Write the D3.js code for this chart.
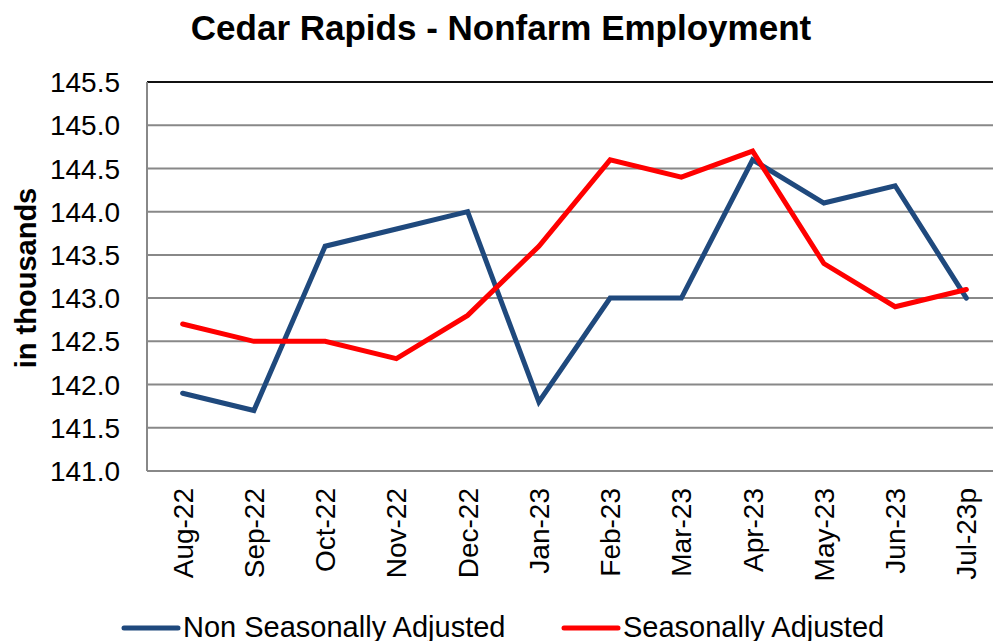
<!DOCTYPE html>
<html>
<head>
<meta charset="utf-8">
<script src="https://cdn.jsdelivr.net/npm/d3@7"></script>
<style>
  body { margin: 0; background: #fff; overflow: hidden; }
  text { font-family: "Liberation Sans", Arial, sans-serif; fill: #000; }
</style>
</head>
<body>
<svg id="chart"></svg>
<script>
// svg size
const width = 993;
const height = 641;

// data
const months = ["Aug-22", "Sep-22", "Oct-22", "Nov-22", "Dec-22", "Jan-23",
    "Feb-23", "Mar-23", "Apr-23", "May-23", "Jun-23", "Jul-23p"];
const nonSeasonal = [141.9, 141.7, 143.6, 143.8, 144.0, 141.8, 143.0, 143.0, 144.6, 144.1, 144.3, 143.0];
const seasonal = [142.7, 142.5, 142.5, 142.3, 142.8, 143.6, 144.6, 144.4, 144.7, 143.4, 142.9, 143.1];
const yTicks = [141.0, 141.5, 142.0, 142.5, 143.0, 143.5, 144.0, 144.5, 145.0, 145.5];

const series = [
    { name: "Non Seasonally Adjusted", values: nonSeasonal, color: "#1f497d" },
    { name: "Seasonally Adjusted", values: seasonal, color: "#ff0000" }
];

// plot box
const plotLeft = 147, plotTop = 82, plotBottom = 471, plotRight = 1002;

const svg = d3.select("#chart")
    .attr("width", width)
    .attr("height", height);

const x = d3.scaleBand()
    .domain(months)
    .range([plotLeft, plotRight]);

const y = d3.scaleLinear()
    .domain([141, 145.5])
    .range([plotBottom, plotTop]);

// gridlines
svg.append("g")
    .selectAll("line")
    .data(yTicks)
    .enter()
    .append("line")
    .attr("x1", plotLeft)
    .attr("x2", plotRight)
    .attr("y1", d => y(d))
    .attr("y2", d => y(d))
    .attr("stroke", d => d === 145.5 ? "#111" : "#888")
    .attr("stroke-width", 2);

// left axis line
svg.append("line")
    .attr("x1", plotLeft).attr("x2", plotLeft)
    .attr("y1", plotTop).attr("y2", plotBottom)
    .attr("stroke", "#888")
    .attr("stroke-width", 2);

// y tick labels
svg.append("g")
    .selectAll("text")
    .data(yTicks)
    .enter()
    .append("text")
    .attr("x", 120)
    .attr("y", d => y(d))
    .attr("dy", "0.36em")
    .attr("text-anchor", "end")
    .attr("font-size", 28)
    .text(d => d.toFixed(1));

// x tick labels
svg.append("g")
    .selectAll("text")
    .data(months)
    .enter()
    .append("text")
    .attr("transform", d => `translate(${x(d) + x.bandwidth() / 2}, 488) rotate(-90)`)
    .attr("dy", "0.36em")
    .attr("text-anchor", "end")
    .attr("font-size", 28)
    .text(d => d);

// lines
const line = d3.line()
    .x((d, i) => x(months[i]) + x.bandwidth() / 2)
    .y(d => y(d));

svg.append("g")
    .selectAll("path")
    .data(series)
    .enter()
    .append("path")
    .attr("d", d => line(d.values))
    .attr("fill", "none")
    .attr("stroke", d => d.color)
    .attr("stroke-width", 5)
    .attr("stroke-linejoin", "miter")
    .attr("stroke-linecap", "round");

// title
svg.append("text")
    .attr("x", 501)
    .attr("y", 40)
    .attr("text-anchor", "middle")
    .attr("font-size", 35)
    .attr("font-weight", "bold")
    .text("Cedar Rapids - Nonfarm Employment");

// y axis title
svg.append("text")
    .attr("transform", "translate(36, 278) rotate(-90)")
    .attr("text-anchor", "middle")
    .attr("font-size", 29)
    .attr("font-weight", "bold")
    .text("in thousands");

// legend
const legendX = [124, 564];
const legend = svg.append("g")
    .selectAll("g")
    .data(series)
    .enter()
    .append("g")
    .attr("transform", (d, i) => `translate(${legendX[i]}, 628)`);

legend.append("line")
    .attr("x1", 0).attr("x2", 54)
    .attr("stroke", d => d.color)
    .attr("stroke-width", 5)
    .attr("stroke-linecap", "round");

legend.append("text")
    .attr("x", 59)
    .attr("y", 9)
    .attr("font-size", 29)
    .text(d => d.name);
</script>
</body>
</html>
